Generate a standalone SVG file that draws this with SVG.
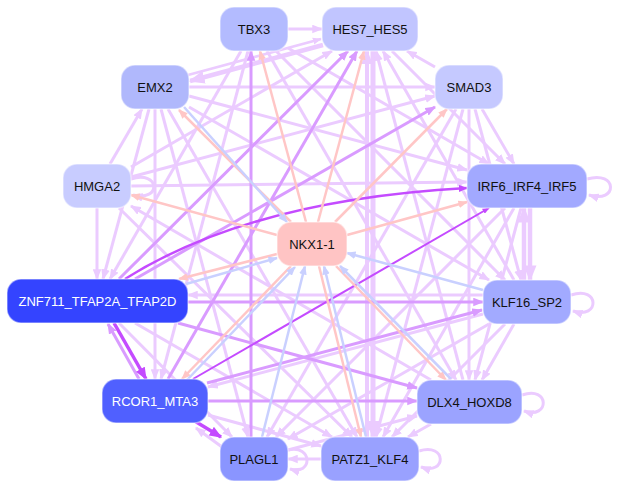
<svg xmlns="http://www.w3.org/2000/svg" width="618" height="489" viewBox="0 0 618 489">
<style>
.e{fill:none;stroke-width:3}
.l{stroke:#ebcbff;marker-end:url(#al)}
.m{stroke:#d99bff;marker-end:url(#am)}
.d{stroke:#c44bff;marker-end:url(#ad)}
.p{stroke:#ffc6c6;stroke-width:2.5;marker-end:url(#ap)}
.b{stroke:#c9d0ff;stroke-width:2.5;marker-end:url(#ab)}
.n rect{stroke:#ffffff;stroke-opacity:0.45;stroke-width:1.5}
.n text{font-family:"Liberation Sans",Arial,sans-serif;font-size:13px;text-anchor:middle;fill:#111}
.n text.w{fill:#ffffff}
</style>
<defs>
<marker id="al" viewBox="0 0 10 8" refX="9" refY="4" markerWidth="3.6" markerHeight="3" orient="auto" markerUnits="strokeWidth"><path d="M0,0L10,4L0,8z" fill="#ebcbff"/></marker>
<marker id="am" viewBox="0 0 10 8" refX="9" refY="4" markerWidth="3.6" markerHeight="3" orient="auto" markerUnits="strokeWidth"><path d="M0,0L10,4L0,8z" fill="#d99bff"/></marker>
<marker id="ad" viewBox="0 0 10 8" refX="9" refY="4" markerWidth="3.6" markerHeight="3" orient="auto" markerUnits="strokeWidth"><path d="M0,0L10,4L0,8z" fill="#c44bff"/></marker>
<marker id="ap" viewBox="0 0 10 8" refX="9" refY="4" markerWidth="3.8" markerHeight="3.2" orient="auto" markerUnits="strokeWidth"><path d="M0,0L10,4L0,8z" fill="#ffc6c6"/></marker>
<marker id="ab" viewBox="0 0 10 8" refX="9" refY="4" markerWidth="3.8" markerHeight="3.2" orient="auto" markerUnits="strokeWidth"><path d="M0,0L10,4L0,8z" fill="#c9d0ff"/></marker>
</defs>
<rect width="618" height="489" fill="#ffffff"/>
<g id="connectors">
<path class="e l" d="M288,29L322,29"/>
<path class="e l" style="stroke-width:2.5" d="M188,75L321,39"/>
<path class="e l" style="stroke-width:4.5" d="M323,45L190,81"/>
<path class="e l" d="M189,87L435,87"/>
<path class="e l" d="M435,67L407,51"/>
<path class="e l" d="M482,109L514,164"/>
<path class="e l" d="M110,164L142,109"/>
<path class="e l" d="M97,208L97,279"/>
<path class="e l" d="M131,186L467,182"/>
<path class="e l" d="M189,96L467,170"/>
<path class="e l" d="M189,107L489,280"/>
<path class="e l" d="M168,109L357,437"/>
<path class="e l" d="M161,109L248,437"/>
<path class="e l" d="M155,109L155,379"/>
<path class="e l" d="M149,109L103,279"/>
<path class="e l" d="M241,51L110,279"/>
<path class="e l" d="M248,51L161,379"/>
<path class="e l" d="M267,51L456,380"/>
<path class="e l" d="M288,48L489,164"/>
<path class="e l" d="M276,51L505,280"/>
<path class="e l" style="stroke-width:5" d="M373,51L373,437"/>
<path class="e l" style="stroke-width:4" d="M367,437L367,51"/>
<path class="e l" d="M463,380L376,51"/>
<path class="e l" d="M514,280L383,51"/>
<path class="e l" d="M392,51L505,164"/>
<path class="e l" d="M456,109L267,437"/>
<path class="e l" d="M463,109L376,437"/>
<path class="e l" d="M475,109L521,280"/>
<path class="e l" d="M469,109L469,380"/>
<path class="e l" d="M505,208L276,437"/>
<path class="e l" d="M514,208L383,437"/>
<path class="e l" d="M521,208L475,380"/>
<path class="e l" style="stroke-width:4.5" d="M530,208L530,280"/>
<path class="e l" style="stroke-width:4.5" d="M524,280L524,208"/>
<path class="e l" d="M483,295L188,295"/>
<path class="e l" d="M483,314L208,387"/>
<path class="e l" d="M489,324L288,439"/>
<path class="e l" d="M505,324L392,437"/>
<path class="e l" d="M514,324L482,380"/>
<path class="e l" d="M431,380L131,206"/>
<path class="e l" d="M119,323L232,437"/>
<path class="e l" d="M135,323L332,437"/>
<path class="e l" d="M222,447L196,428"/>
<path class="e l" d="M208,415L321,446"/>
<path class="e l" d="M288,450L417,416"/>
<path class="e l" d="M431,424L408,437"/>
<path class="e l" d="M321,459L288,459"/>
<path class="e l" d="M119,208L352,437"/>
<path class="e l" d="M131,167L332,51"/>
<path class="e l" d="M131,177L435,96"/>
<path class="e l" d="M131,179C160,170 162,202 133,195"/>
<path class="e l" d="M587,179C618,170 618,204 589,195"/>
<path class="e l" d="M571,295C600,285 600,320 573,311"/>
<path class="e l" d="M522,395C550,385 550,420 524,411"/>
<path class="e l" d="M419,451C447,442 447,476 421,467"/>
<path class="e l" d="M288,450C313,444 313,476 290,469"/>
<path class="e m" d="M251,437L251,51"/>
<path class="e m" d="M119,279L348,51"/>
<path class="e m" d="M168,379L357,51"/>
<path class="e m" d="M135,279L435,107"/>
<path class="e m" d="M188,302L483,302"/>
<path class="e m" d="M207,383L482,310"/>
<path class="e m" d="M178,323L417,388"/>
<path class="e m" d="M208,401L417,401"/>
<path class="e m" d="M139,379L108,324"/>
<path class="e d" style="stroke-width:3.5" d="M114,323L146,379"/>
<path class="e d" style="stroke-width:2.5" d="M125,279Q250,200 467,188"/>
<path class="e d" style="stroke-width:3.5" d="M193,420L221,437"/>
<path class="e d" style="stroke-width:2" d="M193,379L489,208"/>
<path class="e p" d="M306,222L260,51"/>
<path class="e p" d="M318,222L364,51"/>
<path class="e p" d="M335,222L447,109"/>
<path class="e p" d="M291,222L179,110"/>
<path class="e p" d="M347,235L467,202"/>
<path class="e p" d="M277,235L131,195"/>
<path class="e p" d="M277,254L179,279"/>
<path class="e p" d="M291,266L182,379"/>
<path class="e p" d="M319,266L361,437"/>
<path class="e p" d="M336,266L446,380"/>
<path class="e b" d="M184,107L287,222"/>
<path class="e b" d="M483,290L347,253"/>
<path class="e b" d="M262,437L305,266"/>
<path class="e b" d="M366,437L324,266"/>
<path class="e b" d="M451,379L340,266"/>
<path class="e b" d="M187,380L295,267"/>
<path class="e b" d="M186,284L277,258"/>
</g>
<g id="node-TBX3" class="n"><rect x="220" y="7" width="68" height="44" rx="14" fill="#b3bbff"/><text x="254" y="33.5">TBX3</text></g>
<g id="node-HES7_HES5" class="n"><rect x="322" y="7" width="96" height="44" rx="14" fill="#c1c5ff"/><text x="370" y="33.5">HES7_HES5</text></g>
<g id="node-EMX2" class="n"><rect x="121" y="65" width="68" height="44" rx="14" fill="#b0b8fc"/><text x="155" y="91.5">EMX2</text></g>
<g id="node-SMAD3" class="n"><rect x="435" y="65" width="68" height="44" rx="14" fill="#c5c9ff"/><text x="469" y="91.5">SMAD3</text></g>
<g id="node-HMGA2" class="n"><rect x="63" y="164" width="68" height="44" rx="14" fill="#c8ccff"/><text x="97" y="190.5">HMGA2</text></g>
<g id="node-IRF6_IRF4_IRF5" class="n"><rect x="467" y="164" width="120" height="44" rx="14" fill="#a2a9ff"/><text x="527" y="190.5">IRF6_IRF4_IRF5</text></g>
<g id="node-NKX1-1" class="n"><rect x="277" y="222" width="70" height="44" rx="14" fill="#ffc4c4"/><text x="312" y="248.5">NKX1-1</text></g>
<g id="node-ZNF711_TFAP2A_TFAP2D" class="n"><rect x="7" y="279" width="181" height="44" rx="14" fill="#3444ff"/><text class="w" x="97.5" y="305.5">ZNF711_TFAP2A_TFAP2D</text></g>
<g id="node-KLF16_SP2" class="n"><rect x="483" y="280" width="88" height="44" rx="14" fill="#a2aaff"/><text x="527" y="306.5">KLF16_SP2</text></g>
<g id="node-RCOR1_MTA3" class="n"><rect x="102" y="379" width="106" height="44" rx="14" fill="#5060ff"/><text class="w" x="155" y="405.5">RCOR1_MTA3</text></g>
<g id="node-DLX4_HOXD8" class="n"><rect x="417" y="380" width="105" height="44" rx="14" fill="#9ba3ff"/><text x="469.5" y="406.5">DLX4_HOXD8</text></g>
<g id="node-PLAGL1" class="n"><rect x="220" y="437" width="68" height="44" rx="14" fill="#8a95ff"/><text x="254" y="463.5">PLAGL1</text></g>
<g id="node-PATZ1_KLF4" class="n"><rect x="321" y="437" width="98" height="44" rx="14" fill="#99a1ff"/><text x="370" y="463.5">PATZ1_KLF4</text></g>
</svg>
